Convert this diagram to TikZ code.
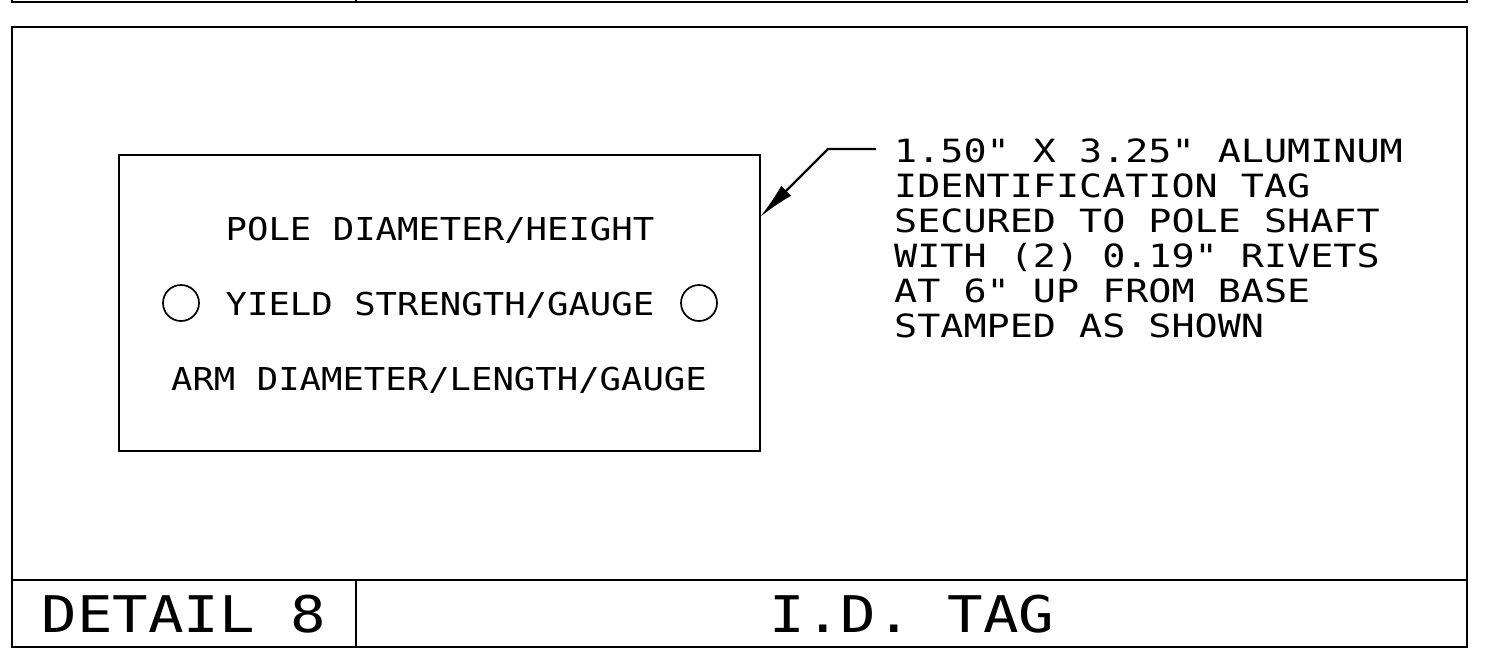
\documentclass[tikz,border=0pt]{standalone}
\usepackage{fontspec}
\usetikzlibrary{arrows.meta}
\newfontfamily\tagfont[FakeStretch=1.13]{DejaVu Sans Mono}
\newfontfamily\notefont[FakeStretch=1.2]{DejaVu Sans Mono}
\newfontfamily\titlefont[FakeStretch=1.17]{DejaVu Sans Mono}
\begin{document}
\begin{tikzpicture}[x=1pt,y=-1pt,
  frame/.style={line width=2.6pt},
  thin/.style={line width=1.9pt},
  tagtext/.style={font=\tagfont\fontsize{31.5}{36}\selectfont, inner sep=0pt, anchor=base},
  notetext/.style={font=\notefont\fontsize{32}{35}\selectfont, inner sep=0pt, align=left, anchor=base west},
  titletext/.style={font=\titlefont\fontsize{50.5}{54}\selectfont, inner sep=0pt, anchor=base},
  hole/.style={circle, draw, line width=1.7pt, minimum size=36pt, inner sep=0pt},
  leader/.style={line width=2.3pt, -{Latex[length=37pt,width=14pt]}}
]
\useasboundingbox (0,0) rectangle (1487,669);
% previous detail strip at top
\draw[frame] (12,0) -- (12,2) -- (1467,2) -- (1467,0);
\draw[frame] (356,0) -- (356,2);
% main frame
\draw[frame] (12,27) rectangle (1467,647);
\draw[frame] (12,580) -- (1467,580);
\draw[frame] (356,580) -- (356,647);
% tag
\node[draw, thin, minimum width=641pt, minimum height=296pt, inner sep=0pt] (tag) at (439.5,303) {};
\node[tagtext] (l1) at (440,240) {POLE DIAMETER/HEIGHT};
\node[tagtext] (l2) at (440,315) {YIELD STRENGTH/GAUGE};
\node[tagtext] (l3) at (439,390) {ARM DIAMETER/LENGTH/GAUGE};
\node[hole] (h1) at (181,303) {};
\node[hole] (h2) at (699,303) {};
% leader
\coordinate (ls) at (876,149);
\coordinate (lk) at (828,149);
\coordinate (tip) at (760,217);
\draw[leader] (ls) -- (lk) -- (tip);
% note
\node[notetext] (note) at (894,337) {1.50" X 3.25" ALUMINUM\\IDENTIFICATION TAG\\SECURED TO POLE SHAFT\\WITH (2) 0.19" RIVETS\\AT 6" UP FROM BASE\\STAMPED AS SHOWN};
% title
\node[titletext] (t1) at (184,632) {DETAIL 8};
\node[titletext] (t2) at (912,632) {I.D. TAG};
\end{tikzpicture}
\end{document}
